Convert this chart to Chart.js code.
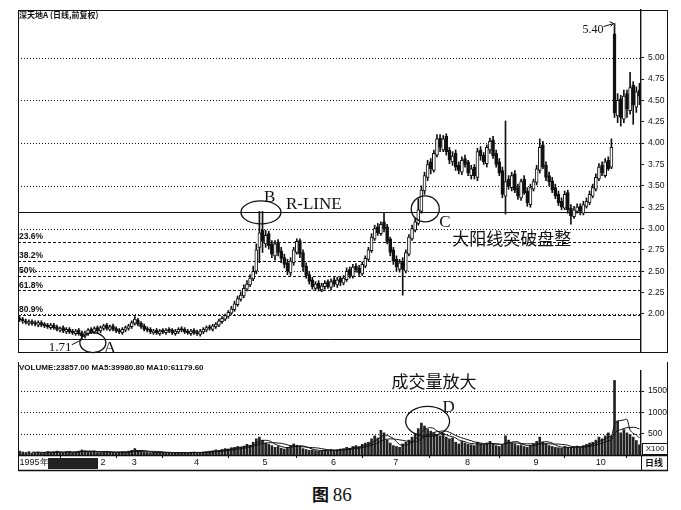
<!DOCTYPE html>
<html>
<head>
<meta charset="utf-8">
<script src="https://cdn.jsdelivr.net/npm/chart.js@4/dist/chart.umd.min.js"></script>
<style>
  body { margin: 0; background: #fff; }
  #wrap { position: relative; width: 681px; height: 510px; overflow: hidden; }
  #priceCanvas { position: absolute; left: 0; top: 0; }
  #volCanvas { position: absolute; left: 0; top: 362px; }
  #caption { position: absolute; left: 312px; top: 481px; font: 17px 'Noto Sans CJK SC'; color: #111; }
  #caption span { font-family: 'Liberation Serif'; font-size: 19px; }
</style>
</head>
<body>
<div id="wrap">
  <canvas id="priceCanvas" width="681" height="362"></canvas>
  <canvas id="volCanvas" width="681" height="110"></canvas>
  <div id="caption"><b>图</b> <span>86</span></div>
</div>
<script>
'use strict';

// daily prices, Jan - Oct 1995
var opens = [
  1.95,1.94,1.92,1.89,1.91,1.90,1.87,1.90,1.88,1.87,
  1.84,1.87,1.85,1.81,1.84,1.79,1.82,1.80,1.77,1.81,
  1.78,1.74,1.77,1.82,1.79,1.84,1.80,1.83,1.87,1.82,
  1.86,1.83,1.81,1.78,1.81,1.83,1.85,1.89,1.93,1.89,
  1.86,1.83,1.82,1.78,1.81,1.77,1.81,1.78,1.82,1.81,
  1.77,1.79,1.83,1.82,1.80,1.77,1.81,1.79,1.76,1.79,
  1.81,1.85,1.82,1.85,1.87,1.91,1.94,1.97,2.01,2.05,
  2.11,2.17,2.21,2.29,2.34,2.41,2.50,2.78,2.98,2.82,
  2.94,2.82,2.68,2.84,2.74,2.66,2.60,2.48,2.60,2.72,
  2.86,2.72,2.56,2.46,2.40,2.30,2.36,2.28,2.32,2.38,
  2.31,2.40,2.34,2.42,2.36,2.40,2.52,2.44,2.56,2.54,
  2.47,2.56,2.64,2.74,2.88,3.02,2.94,3.08,3.02,2.88,
  2.75,2.64,2.52,2.62,2.50,2.70,2.88,2.98,3.06,3.20,
  3.44,3.60,3.78,3.68,3.86,4.06,3.92,4.08,3.92,3.78,
  3.88,3.74,3.66,3.82,3.78,3.62,3.72,3.60,3.92,3.86,
  3.76,3.92,4.04,3.88,3.78,3.68,3.38,3.58,3.48,3.64,
  3.48,3.36,3.58,3.44,3.28,3.46,3.54,3.68,3.98,3.74,
  3.62,3.56,3.48,3.40,3.32,3.24,3.42,3.24,3.14,3.20,
  3.26,3.18,3.26,3.30,3.38,3.46,3.58,3.74,3.62,3.80,
  3.72,5.28,4.32,4.52,4.28,4.58,4.38,4.68,4.42,4.62
];
var highs = [
  1.97,1.96,1.94,1.93,1.93,1.92,1.92,1.92,1.90,1.89,
  1.89,1.89,1.87,1.85,1.86,1.84,1.84,1.82,1.82,1.83,
  1.80,1.80,1.83,1.84,1.85,1.86,1.86,1.88,1.89,1.87,
  1.88,1.85,1.83,1.84,1.86,1.88,1.92,1.97,1.95,1.91,
  1.88,1.85,1.84,1.82,1.83,1.82,1.83,1.83,1.84,1.83,
  1.82,1.84,1.85,1.84,1.82,1.82,1.83,1.81,1.82,1.84,
  1.86,1.87,1.88,1.90,1.94,1.97,2.00,2.04,2.09,2.15,
  2.21,2.26,2.34,2.39,2.46,2.56,2.82,3.20,3.20,2.98,
  2.97,2.86,2.86,2.87,2.78,2.70,2.64,2.66,2.78,2.88,
  2.88,2.75,2.60,2.50,2.43,2.38,2.39,2.36,2.39,2.40,
  2.41,2.43,2.43,2.44,2.45,2.54,2.55,2.58,2.59,2.57,
  2.61,2.68,2.78,2.94,3.04,3.06,3.08,3.19,3.05,2.90,
  2.78,2.68,2.64,2.66,2.75,2.93,3.04,3.12,3.35,3.50,
  3.66,3.80,3.82,3.92,4.10,4.10,4.09,4.11,3.95,3.90,
  3.92,3.78,3.84,3.86,3.80,3.74,3.75,3.94,3.96,3.89,
  3.98,4.06,4.08,3.92,3.82,3.72,4.26,3.62,3.66,3.68,
  3.52,3.58,3.62,3.48,3.52,3.58,3.74,4.05,4.02,3.78,
  3.66,3.60,3.52,3.44,3.36,3.44,3.45,3.28,3.26,3.29,
  3.29,3.32,3.36,3.44,3.52,3.64,3.76,3.78,3.82,3.84,
  4.05,5.40,4.58,4.56,4.62,4.62,4.83,4.72,4.66,4.70
];
var lows = [
  1.91,1.89,1.88,1.87,1.87,1.86,1.85,1.85,1.84,1.83,
  1.82,1.82,1.80,1.79,1.78,1.77,1.77,1.76,1.75,1.75,
  1.71,1.72,1.75,1.77,1.77,1.78,1.78,1.81,1.81,1.80,
  1.80,1.78,1.77,1.76,1.79,1.81,1.83,1.87,1.86,1.83,
  1.80,1.79,1.77,1.76,1.76,1.75,1.77,1.76,1.78,1.76,
  1.75,1.77,1.79,1.77,1.76,1.75,1.76,1.75,1.74,1.77,
  1.79,1.81,1.80,1.83,1.85,1.89,1.92,1.95,1.99,2.03,
  2.09,2.15,2.19,2.27,2.32,2.39,2.47,2.60,2.72,2.78,
  2.76,2.66,2.63,2.68,2.60,2.54,2.46,2.45,2.57,2.70,
  2.66,2.50,2.42,2.35,2.29,2.28,2.27,2.26,2.29,2.30,
  2.28,2.32,2.31,2.33,2.34,2.38,2.42,2.42,2.49,2.45,
  2.45,2.54,2.62,2.72,2.86,2.92,2.92,2.96,2.82,2.68,
  2.58,2.50,2.49,2.22,2.48,2.68,2.86,2.96,3.04,3.18,
  3.40,3.56,3.64,3.66,3.84,3.90,3.90,3.86,3.76,3.74,
  3.68,3.64,3.63,3.72,3.62,3.58,3.58,3.56,3.80,3.75,
  3.72,3.88,3.82,3.72,3.62,3.36,3.17,3.46,3.44,3.42,
  3.34,3.33,3.40,3.26,3.25,3.44,3.51,3.65,3.70,3.56,
  3.50,3.42,3.35,3.27,3.22,3.22,3.18,3.05,3.12,3.18,
  3.16,3.16,3.24,3.28,3.36,3.44,3.56,3.62,3.60,3.68,
  3.70,4.30,4.24,4.20,4.24,4.30,4.34,4.22,4.36,4.45
];
var closes = [
  1.93,1.92,1.90,1.91,1.89,1.88,1.90,1.87,1.86,1.85,
  1.87,1.84,1.82,1.83,1.80,1.82,1.79,1.78,1.80,1.77,
  1.74,1.78,1.81,1.79,1.83,1.80,1.84,1.86,1.83,1.85,
  1.82,1.80,1.79,1.82,1.84,1.86,1.90,1.94,1.88,1.85,
  1.82,1.81,1.79,1.80,1.78,1.80,1.79,1.81,1.80,1.78,
  1.80,1.82,1.81,1.79,1.78,1.80,1.78,1.77,1.80,1.82,
  1.84,1.83,1.86,1.88,1.92,1.95,1.98,2.02,2.06,2.12,
  2.18,2.22,2.30,2.35,2.42,2.50,2.75,2.95,2.85,2.92,
  2.80,2.70,2.82,2.72,2.65,2.58,2.50,2.62,2.75,2.85,
  2.70,2.55,2.45,2.38,2.32,2.35,2.30,2.33,2.36,2.32,
  2.38,2.35,2.40,2.37,2.42,2.50,2.45,2.55,2.52,2.48,
  2.58,2.65,2.75,2.90,3.00,2.95,3.05,3.00,2.85,2.72,
  2.62,2.55,2.60,2.52,2.72,2.90,3.00,3.08,3.22,3.45,
  3.62,3.75,3.70,3.88,4.05,3.95,4.05,3.90,3.80,3.85,
  3.72,3.68,3.80,3.75,3.65,3.70,3.62,3.90,3.85,3.78,
  3.95,4.02,3.85,3.75,3.65,3.40,3.55,3.50,3.62,3.45,
  3.38,3.55,3.42,3.30,3.48,3.55,3.70,3.95,3.72,3.60,
  3.55,3.45,3.38,3.30,3.25,3.40,3.22,3.15,3.22,3.25,
  3.20,3.28,3.32,3.40,3.48,3.60,3.72,3.65,3.78,3.70,
  3.95,4.35,4.50,4.30,4.55,4.40,4.65,4.45,4.60,4.55
];
// volume in units of 100 shares
var volumes = [
  90,70,60,80,50,60,70,55,65,80,
  60,70,90,60,50,75,85,60,70,90,
  120,100,80,70,90,60,55,70,85,60,
  50,60,70,80,75,90,110,150,100,80,
  70,60,50,65,55,60,50,55,65,60,
  50,45,55,60,50,65,70,55,60,70,
  80,90,100,120,110,130,150,140,170,180,
  200,190,210,250,230,300,380,420,350,280,
  250,220,180,200,160,140,180,220,260,230,
  200,150,130,110,120,100,90,110,120,100,
  130,110,120,140,150,180,160,200,220,190,
  250,280,300,380,450,400,580,520,350,280,
  220,200,180,260,300,350,420,500,620,750,
  680,600,560,520,480,450,500,420,380,400,
  300,260,320,280,250,240,220,300,260,240,
  280,320,250,220,200,230,450,350,280,260,
  220,240,200,180,230,260,320,420,300,260,
  220,200,180,170,160,200,180,170,190,210,
  190,220,250,280,300,350,420,380,450,520,
  450,1750,800,520,599,520,480,420,340,239
];

var priceTicks = [2.00,2.25,2.50,2.75,3.00,3.25,3.50,3.75,4.00,4.25,4.50,4.75,5.00];
var gridPrices = [2.0,2.5,3.0,3.5,4.0,4.5,5.0];
var volTicks = [500,1000,1500];
var fibLabels = ['23.6%','38.2%','50%','61.8%','80.9%'];
var fibRatios = [0.236,0.382,0.5,0.618,0.809];
var rLine = 3.19;   // B high
var lowPrice = 1.71; // A low
var monthIdx = [0,26,36,56,78,100,120,143,165,185];
var monthText = ['1995年','2','3','4','5','6','7','8','9','10'];

var days = opens.map(function(v, i){ return String(i); });
var fibLevels = fibRatios.map(function(r){ return rLine - r * (rLine - lowPrice); });

function movingAvg(arr, n) {
  var out = [];
  for (var i = 0; i < arr.length; i++) {
    if (i < n - 1) { out.push(null); continue; }
    var s = 0;
    for (var k = i - n + 1; k <= i; k++) s += arr[k];
    out.push(s / n);
  }
  return out;
}

// helpers for the decoration plugins
function hline(ctx, x1, x2, y, dash, w) {
  ctx.save();
  ctx.setLineDash(dash);
  ctx.lineWidth = w || 1;
  ctx.strokeStyle = '#111';
  ctx.beginPath();
  ctx.moveTo(x1, Math.round(y) + 0.5);
  ctx.lineTo(x2, Math.round(y) + 0.5);
  ctx.stroke();
  ctx.restore();
}
function line(ctx, x1, y1, x2, y2, w) {
  ctx.save();
  ctx.lineWidth = w || 1;
  ctx.strokeStyle = '#111';
  ctx.beginPath();
  ctx.moveTo(x1, y1);
  ctx.lineTo(x2, y2);
  ctx.stroke();
  ctx.restore();
}
function ellipse(ctx, cx, cy, rx, ry) {
  ctx.save();
  ctx.lineWidth = 1.3;
  ctx.strokeStyle = '#111';
  ctx.beginPath();
  ctx.ellipse(cx, cy, rx, ry, 0, 0, Math.PI * 2);
  ctx.stroke();
  ctx.restore();
}
function label(ctx, s, x, y, font, align, base) {
  ctx.save();
  ctx.font = font;
  ctx.fillStyle = '#111';
  ctx.textAlign = align || 'left';
  ctx.textBaseline = base || 'alphabetic';
  ctx.fillText(s, x, y);
  ctx.restore();
}

var serif = 'Liberation Serif';
var cjk = 'Noto Sans CJK SC';

var priceDecor = {
  id: 'priceDecor',
  beforeDatasetsDraw: function(chart) {
    var ctx = chart.ctx, a = chart.chartArea, y = chart.scales.y;
    gridPrices.forEach(function(v){ hline(ctx, a.left, a.right, y.getPixelForValue(v), [1, 2]); });
    fibLevels.forEach(function(v, i){
      var py = y.getPixelForValue(v);
      hline(ctx, a.left, a.right, py, [3, 2]);
      label(ctx, fibLabels[i], a.left + 1, py - 1, 'bold 8.5px Liberation Sans', 'left', 'bottom');
    });
    hline(ctx, a.left, a.right, y.getPixelForValue(rLine), [], 1.2);
    hline(ctx, a.left, a.right, y.getPixelForValue(lowPrice), [], 1);
  },
  afterDraw: function(chart) {
    var ctx = chart.ctx, a = chart.chartArea, x = chart.scales.x, y = chart.scales.y;
    // frame
    hline(ctx, a.left, 668, a.top, []);
    hline(ctx, a.left, 668, a.bottom - 1, []);
    line(ctx, a.left + 0.5, a.top, a.left + 0.5, a.bottom);
    line(ctx, 667.5, a.top, 667.5, a.bottom);
    label(ctx, '深天地A (日线,前复权)', a.left + 1, a.top + 5, 'bold 8px ' + cjk, 'left', 'middle');

    // B and R-LINE
    var bx = (x.getPixelForValue(77) + x.getPixelForValue(78)) / 2;
    var by = y.getPixelForValue(rLine);
    ellipse(ctx, bx, by, 20, 11.5);
    label(ctx, 'B', bx + 3, by - 10, '17px ' + serif);
    label(ctx, 'R-LINE', bx + 25, by - 3, '17px ' + serif);

    // C breakout
    var cx = x.getPixelForValue(128) + 7;
    var cy = y.getPixelForValue(3.23);
    ellipse(ctx, cx, cy, 14, 13);
    label(ctx, 'C', cx + 14, cy + 18, '17px ' + serif);
    label(ctx, '大阳线突破盘整', cx + 27, cy + 30, '17px ' + cjk, 'left', 'middle');

    // A low
    var ax = x.getPixelForValue(20);
    var ay = y.getPixelForValue(lowPrice);
    ellipse(ctx, ax + 11, ay + 4, 13, 10);
    label(ctx, '1.71', ax - 33, ay + 12, '13px ' + serif);
    line(ctx, ax - 10, ay + 6, ax, ay + 1);
    label(ctx, 'A', ax + 22, ay + 14, '17px ' + serif);

    // 5.40 top
    var tx = x.getPixelForValue(191);
    var ty = y.getPixelForValue(5.40);
    label(ctx, '5.40', tx - 32, ty + 9, '12px ' + serif);
    line(ctx, tx - 11, ty + 3, tx - 1, ty, 1);
    line(ctx, tx - 5, ty - 2, tx - 1, ty, 1);
    line(ctx, tx - 4, ty + 3, tx - 1, ty, 1);
  }
};

var volDecor = {
  id: 'volDecor',
  beforeDatasetsDraw: function(chart) {
    var ctx = chart.ctx, a = chart.chartArea, y = chart.scales.y;
    volTicks.forEach(function(v){ hline(ctx, a.left, a.right, y.getPixelForValue(v), [1, 2]); });
  },
  afterDraw: function(chart) {
    var ctx = chart.ctx, a = chart.chartArea, x = chart.scales.x, y = chart.scales.y;
    var h = chart.height;
    // frame and date strip
    line(ctx, a.left + 0.5, 0, a.left + 0.5, h - 1);
    line(ctx, 667.5, 0, 667.5, h - 1);
    line(ctx, a.right + 0.5, a.bottom, a.right + 0.5, h - 1);
    hline(ctx, a.left, 668, a.bottom, [], 1.4);
    hline(ctx, a.left, 668, h - 2.5, [], 1.4);
    label(ctx, 'VOLUME:23857.00 MA5:39980.80 MA10:61179.60', a.left + 1, 6, 'bold 8px Liberation Sans', 'left', 'middle');
    // x100 box and 日线
    ctx.save();
    ctx.strokeStyle = '#111';
    ctx.strokeRect(a.right + 1.5, a.bottom - 11.5, 25, 11);
    ctx.fillStyle = '#222';
    ctx.fillRect(a.left + 30, a.bottom + 3, 50, 11);
    ctx.restore();
    label(ctx, 'X100', a.right + 14, a.bottom - 6, '8px Liberation Sans', 'center', 'middle');
    label(ctx, '日线', a.right + 13, a.bottom + 8, 'bold 9px ' + cjk, 'center', 'middle');

    // volume expansion note
    var dx = x.getPixelForValue(131);
    var dy = y.getPixelForValue(790);
    ellipse(ctx, dx, dy, 22, 15);
    label(ctx, 'D', dx + 15, dy - 14, '17px ' + serif, 'left', 'middle');
    label(ctx, '成交量放大', dx - 36, dy - 40, '17px ' + cjk, 'left', 'middle');
  }
};

var common = {
  responsive: false,
  animation: false,
  devicePixelRatio: 1,
  plugins: { legend: { display: false }, tooltip: { enabled: false } }
};

new Chart(document.getElementById('priceCanvas').getContext('2d'), {
  type: 'bar',
  data: {
    labels: days,
    datasets: [
      {
        // candle bodies
        data: opens.map(function(o, i){ return [o, closes[i]]; }),
        backgroundColor: opens.map(function(o, i){ return closes[i] >= o ? '#fff' : '#111'; }),
        borderColor: '#111',
        borderWidth: 1,
        borderSkipped: false,
        barThickness: 3,
        minBarLength: 1,
        grouped: false
      },
      {
        // wicks
        data: lows.map(function(l, i){ return [l, highs[i]]; }),
        backgroundColor: '#111',
        barThickness: 1,
        grouped: false
      }
    ]
  },
  options: Object.assign({}, common, {
    layout: { padding: { left: 18, right: 14, top: 10, bottom: 0 } },
    scales: {
      x: { display: false, offset: true },
      y: {
        position: 'right',
        min: 1.544,
        max: 5.559,
        afterBuildTicks: function(s){ s.ticks = priceTicks.map(function(v){ return { value: v }; }); },
        afterFit: function(s){ s.width = 26; },
        grid: { drawOnChartArea: false, tickLength: 3, color: '#111' },
        border: { display: true, color: '#111', width: 1.4 },
        ticks: {
          padding: 4,
          color: '#111',
          font: { family: 'Liberation Sans', size: 8.5 },
          callback: function(v){ return v.toFixed(2); }
        }
      }
    }
  }),
  plugins: [priceDecor]
});

new Chart(document.getElementById('volCanvas').getContext('2d'), {
  type: 'bar',
  data: {
    labels: days,
    datasets: [
      {
        type: 'line',
        data: movingAvg(volumes, 5),
        borderColor: '#111',
        borderWidth: 1,
        pointRadius: 0,
        tension: 0.3
      },
      {
        type: 'line',
        data: movingAvg(volumes, 10),
        borderColor: '#111',
        borderWidth: 1,
        pointRadius: 0,
        tension: 0.3
      },
      {
        data: volumes,
        backgroundColor: '#222',
        barThickness: 2
      }
    ]
  },
  options: Object.assign({}, common, {
    layout: { padding: { left: 18, right: 14, top: 1, bottom: 2 } },
    scales: {
      x: {
        offset: true,
        afterBuildTicks: function(s){ s.ticks = monthIdx.map(function(v){ return { value: v }; }); },
        afterFit: function(s){ s.height = 15; },
        grid: { drawOnChartArea: false, tickLength: 3, color: '#111' },
        border: { display: false },
        ticks: {
          autoSkip: false,
          maxRotation: 0,
          align: 'start',
          padding: -1,
          color: '#111',
          font: { family: 'Liberation Sans', size: 9 },
          callback: function(v){ var k = monthIdx.indexOf(v); return k < 0 ? '' : monthText[k]; }
        }
      },
      y: {
        position: 'right',
        min: 0,
        max: 1970,
        afterBuildTicks: function(s){ s.ticks = volTicks.map(function(v){ return { value: v }; }); },
        afterFit: function(s){ s.width = 26; },
        grid: { drawOnChartArea: false, tickLength: 3, color: '#111' },
        border: { display: true, color: '#111', width: 1.4 },
        ticks: {
          padding: 4,
          color: '#111',
          font: { family: 'Liberation Sans', size: 8.5 },
          callback: function(v){ return String(v); }
        }
      }
    }
  }),
  plugins: [volDecor]
});
</script>
</body>
</html>
